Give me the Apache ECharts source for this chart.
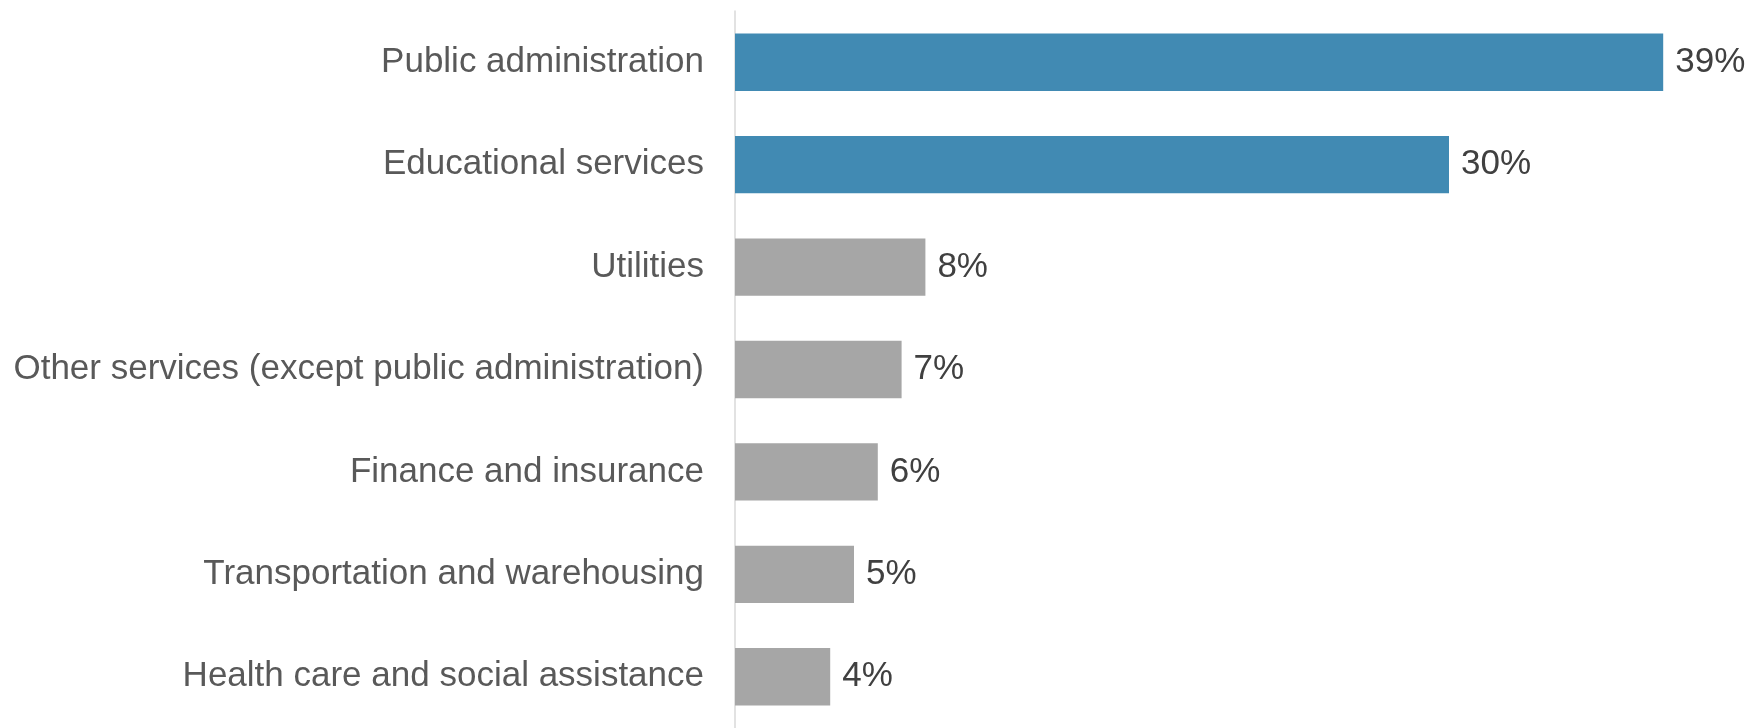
<!DOCTYPE html>
<html>
<head>
<meta charset="utf-8">
<script src="https://cdn.jsdelivr.net/npm/echarts@6/dist/echarts.min.js"></script>
<style>
  html, body { margin: 0; padding: 0; background: #ffffff; }
  #chart { width: 1760px; height: 728px; }
</style>
</head>
<body>
<div id="chart"></div>
<script>
// Industries, top to bottom
const categories = [
  'Public administration',
  'Educational services',
  'Utilities',
  'Other services (except public administration)',
  'Finance and insurance',
  'Transportation and warehousing',
  'Health care and social assistance'
];
// Share of workers, percent
const values = [39, 30, 8, 7, 6, 5, 4];
// Highlighted industries drawn in blue, the rest in gray
const highlighted = [true, true, false, false, false, false, false];

const BLUE = '#418AB3';
const GRAY = '#A6A6A6';

const chart = echarts.init(document.getElementById('chart'), null, { renderer: 'canvas' });

chart.setOption({
  animation: false,
  backgroundColor: '#ffffff',
  grid: { left: 735, top: 11, width: 952, height: 721, containLabel: false },
  xAxis: {
    type: 'value',
    min: 0,
    max: 40,
    show: false
  },
  yAxis: {
    type: 'category',
    data: categories,
    inverse: true,
    axisLine: { show: true, lineStyle: { color: '#D9D9D9', width: 1.5 } },
    axisTick: { show: false },
    splitLine: { show: false },
    axisLabel: {
      margin: 31,
      fontFamily: 'Liberation Sans, Arial, sans-serif',
      fontSize: 35,
      color: '#595959'
    }
  },
  series: [{
    type: 'bar',
    data: values.map((v, i) => ({
      value: v,
      itemStyle: { color: highlighted[i] ? BLUE : GRAY }
    })),
    barCategoryGap: '44%',
    label: {
      show: true,
      position: 'right',
      distance: 12,
      formatter: p => p.value + '%',
      fontFamily: 'Liberation Sans, Arial, sans-serif',
      fontSize: 35,
      color: '#404040'
    }
  }]
});
</script>
</body>
</html>
